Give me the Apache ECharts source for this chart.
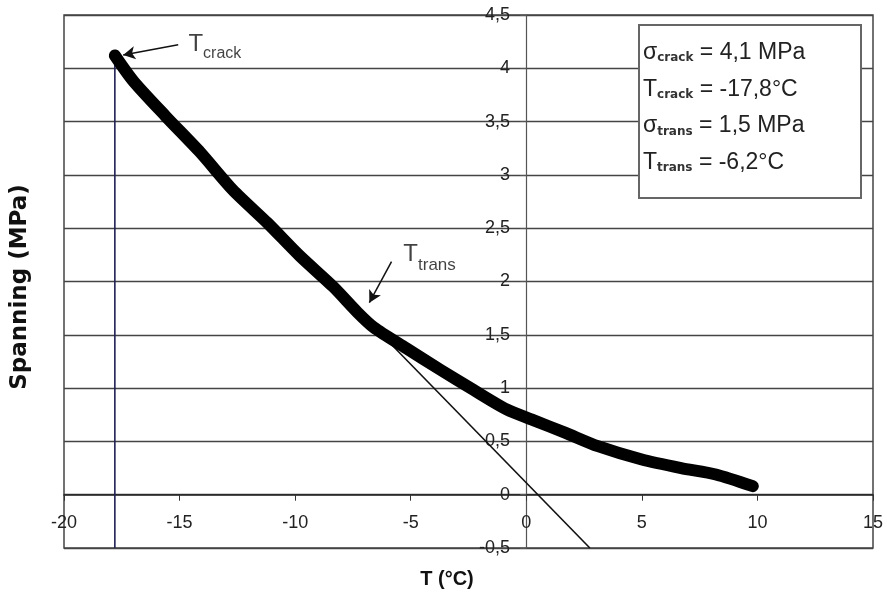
<!DOCTYPE html>
<html><head><meta charset="utf-8">
<script src="https://cdn.jsdelivr.net/npm/echarts@6/dist/echarts.min.js"></script>
<style>html,body{margin:0;padding:0;background:#fff}#c{width:887px;height:604px}</style>
</head><body><div id="c"></div>
<script>
// Measured curve: temperature (°C) and stress (MPa)
const temps  = [-17.8, -17.0, -15.6, -14.1, -12.7, -11.2, -9.8, -8.35, -7.3, -6.6, -5.2, -3.7, -2.3, -0.85, 0.3, 1.7, 3.1, 5.0, 6.7, 8.2, 9.8];
const stress = [4.12, 3.88, 3.55, 3.21, 2.86, 2.55, 2.24, 1.95, 1.71, 1.57, 1.375, 1.17, 0.985, 0.80, 0.70, 0.58, 0.455, 0.33, 0.25, 0.19, 0.08];
// Vertical line at T_crack
const crackT = [-17.8, -17.8];
const crackS = [4.12, -0.5];
// Tangent line
const tangentT = [-7.5, 2.75];
const tangentS = [1.78, -0.5];
// Annotation arrows [tail, head]
const arrowCrack = [[-15.06, 4.22], [-17.44, 4.125]];
const arrowTrans = [[-5.83, 2.186], [-6.79, 1.801]];
// Annotation label anchors
const labelCrack = [-14.64, 4.228];
const labelTrans = [-5.34, 2.252];
// Axis ranges
const xRange = [-20, 15, 5];
const yRange = [-0.5, 4.5, 0.5];
// Info box lines: [symbol, subscript, rest]
const infoLines = [
  ['σ', 'crack', ' = 4,1 MPa'],
  ['T', 'crack', ' = -17,8°C'],
  ['σ', 'trans', ' = 1,5 MPa'],
  ['T', 'trans', ' = -6,2°C']
];

const FONT = 'Liberation Sans, Arial, sans-serif';
const zip = (a, b) => a.map((v, i) => [v, b[i]]);
const comma = v => String(v).replace('.', ',');

const chart = echarts.init(document.getElementById('c'), null, {renderer: 'canvas'});

const infoGraphic = [{
  type: 'rect', z: 100,
  shape: {x: 639, y: 25, width: 222, height: 173},
  style: {fill: '#fff', stroke: '#666', lineWidth: 2}
}].concat(infoLines.map((l, i) => ({
  type: 'text', z: 101, x: 643, y: 52 + i * 36.7,
  style: {
    text: '{m|' + l[0] + '}{s|' + l[1] + '}{m|' + l[2] + '}',
    verticalAlign: 'middle', align: 'left',
    rich: {
      m: {fontFamily: FONT, fontSize: 23, lineHeight: 24, fill: '#222', verticalAlign: 'bottom'},
      s: {fontFamily: 'DejaVu Sans, sans-serif', fontSize: 12, fontWeight: 'bold', lineHeight: 15, fill: '#333', verticalAlign: 'bottom'}
    }
  }
})));

const annRich = (tSize, sSize, pad) => ({
  t: {fontFamily: FONT, fontSize: tSize, lineHeight: tSize, color: '#111', verticalAlign: 'top'},
  s: {fontFamily: FONT, fontSize: sSize, lineHeight: sSize, color: '#111', verticalAlign: 'top', padding: [pad, 0, 0, 0]}
});

chart.setOption({
  animation: false,
  backgroundColor: '#fff',
  grid: {left: 64, right: 14, top: 15, bottom: 56, containLabel: false, outerBoundsMode: 'none',
    show: true, borderColor: '#444', borderWidth: 1.5},
  xAxis: {
    type: 'value', min: xRange[0], max: xRange[1], interval: xRange[2],
    axisLine: {onZero: true, lineStyle: {color: '#222', width: 1.6}},
    axisTick: {show: true, inside: false, length: 6, lineStyle: {color: '#333'}},
    axisLabel: {fontFamily: FONT, fontSize: 18, color: '#222', margin: -34, formatter: comma},
    splitLine: {show: false},
    name: 'T (°C)', nameLocation: 'middle', nameGap: 21,
    nameTextStyle: {fontFamily: FONT, fontSize: 20, fontWeight: 'bold', color: '#111', padding: [0, 43, 0, 0]}
  },
  yAxis: {
    type: 'value', min: yRange[0], max: yRange[1], interval: yRange[2],
    axisLine: {onZero: true, lineStyle: {color: '#555', width: 1.2}},
    axisTick: {show: true, inside: false, length: 6, lineStyle: {color: '#555'}},
    axisLabel: {fontFamily: FONT, fontSize: 18, color: '#222', margin: -446, formatter: comma},
    splitLine: {show: true, lineStyle: {color: '#444', width: 1.3}},
    name: 'Spanning (MPa)', nameLocation: 'middle', nameGap: 32,
    nameTextStyle: {fontFamily: 'DejaVu Sans, sans-serif', fontSize: 23, fontWeight: 'bold', color: '#111', padding: [0, 11, 0, 0]}
  },
  series: [
    {
      type: 'line', data: zip(crackT, crackS), symbol: 'none', z: 2,
      lineStyle: {color: '#1f1f55', width: 1.6}
    },
    {
      type: 'line', data: zip(tangentT, tangentS), symbol: 'none', z: 3,
      lineStyle: {color: '#111', width: 1.6}
    },
    {
      type: 'line', data: zip(temps, stress), symbol: 'none', z: 4,
      smooth: 0.25,
      lineStyle: {color: '#000', width: 12, cap: 'round', join: 'round'}
    },
    {
      type: 'line', data: [], z: 5,
      markLine: {
        silent: true, symbol: ['none', 'arrow'], symbolSize: [10, 12],
        label: {show: false},
        lineStyle: {color: '#111', width: 1.5, type: 'solid'},
        data: [
          [{coord: arrowCrack[0]}, {coord: arrowCrack[1]}],
          [{coord: arrowTrans[0]}, {coord: arrowTrans[1]}]
        ]
      }
    },
    {
      type: 'scatter', z: 6, symbolSize: 1, itemStyle: {color: 'rgba(0,0,0,0)'}, silent: true,
      data: [
        {value: labelCrack, label: {show: true, position: 'right', distance: 0,
          formatter: '{t|T}{s|crack}', rich: annRich(24, 16, 14)}},
        {value: labelTrans, label: {show: true, position: 'right', distance: 0,
          formatter: '{t|T}{s|trans}', rich: annRich(24, 17, 14)}}
      ]
    }
  ],
  graphic: infoGraphic
});
</script></body></html>
